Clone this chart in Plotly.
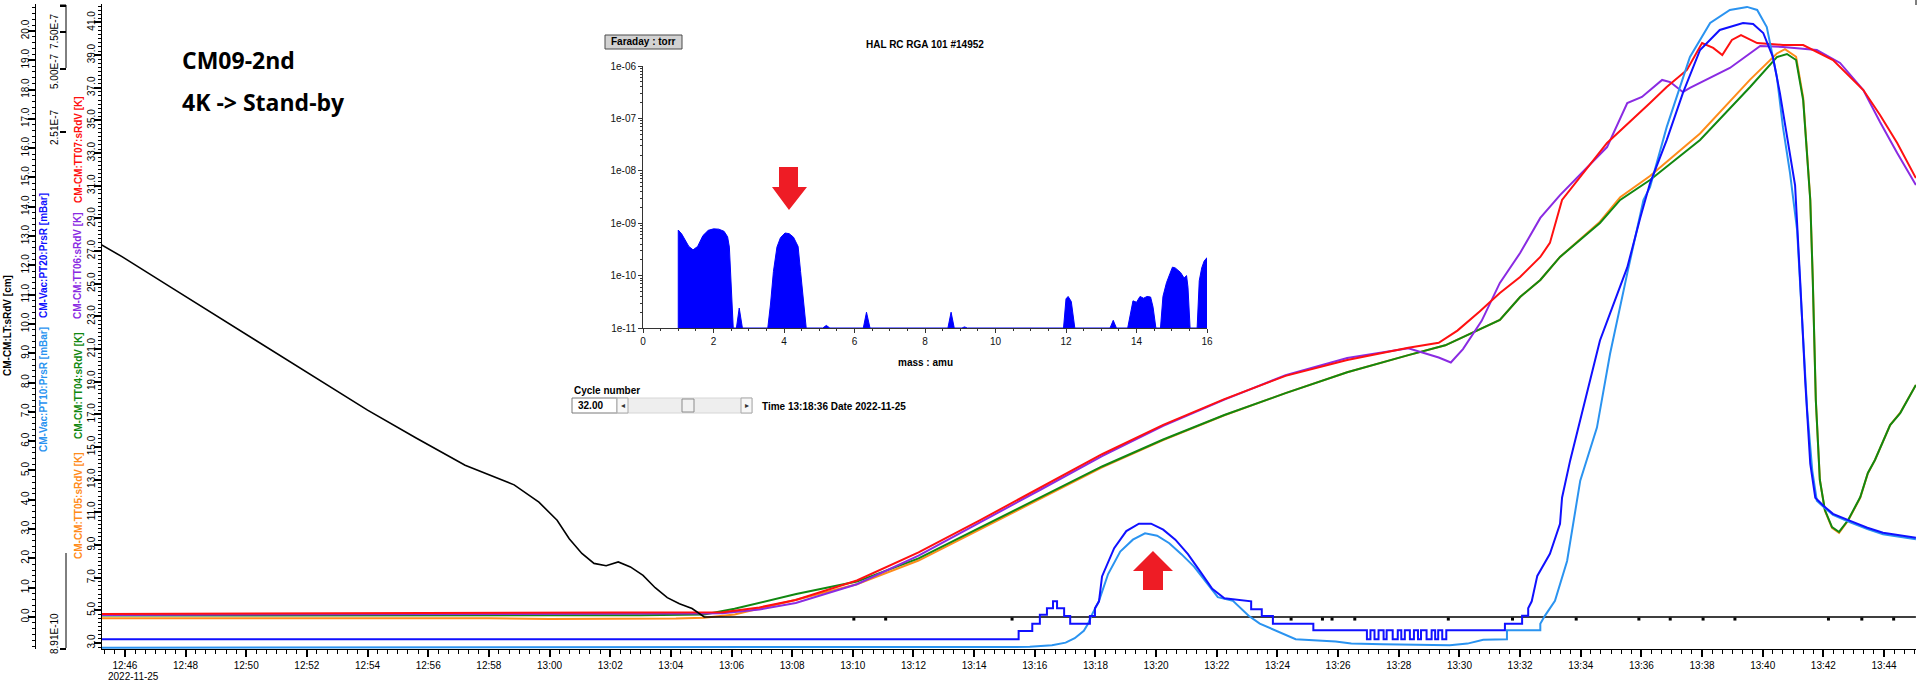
import math
import plotly.graph_objects as go

W, H = 1920, 684
DAY = "2022-11-25 "
FONT = "Liberation Sans, Arial, sans-serif"

# ---------------- data ----------------
# CM-CM:LT:sRdV [cm]
lt_time = ["12:45:14", "12:45:55", "12:47:32", "12:49:09", "12:50:46", "12:52:23", "12:54:00",
           "12:55:37", "12:57:13", "12:58:50", "12:59:39", "13:00:15", "13:00:39", "13:01:04",
           "13:01:28", "13:01:52", "13:02:16", "13:02:40", "13:03:05", "13:03:29", "13:03:53",
           "13:04:17", "13:04:42", "13:05:06", "13:45:03"]
lt_cm = [12.70, 12.29, 11.24, 10.19, 9.15, 8.10, 7.06, 6.10, 5.18, 4.51, 3.92, 3.30, 2.67, 2.17,
         1.83, 1.75, 1.88, 1.71, 1.42, 1.00, 0.66, 0.45, 0.29, 0.0, 0.0]
lt_dot_time = ["13:10:02", "13:11:05", "13:15:15", "13:24:27", "13:25:29", "13:25:48", "13:26:33",
               "13:29:38", "13:31:45", "13:33:51", "13:35:55", "13:36:57", "13:38:02", "13:39:05",
               "13:42:10", "13:43:16", "13:44:19"]
lt_dot_cm = [-0.07] * len(lt_dot_time)

# CM-CM:TT07:sRdV [K]  (red)
tt07_time = ["12:45:14", "12:50:00", "12:55:00", "13:00:00", "13:04:00", "13:05:42", "13:06:55",
             "13:08:07", "13:10:08", "13:12:10", "13:14:11", "13:16:12", "13:18:13", "13:20:14",
             "13:22:15", "13:24:16", "13:26:18", "13:28:19", "13:29:19", "13:29:56", "13:30:40",
             "13:31:20", "13:32:00", "13:32:40", "13:32:59", "13:33:23", "13:34:52", "13:36:17",
             "13:36:50", "13:37:30", "13:38:00", "13:38:22", "13:38:40", "13:38:59", "13:39:17",
             "13:39:49", "13:40:40", "13:41:20", "13:42:19", "13:43:19", "13:43:52", "13:44:26",
             "13:45:03"]
tt07_k = [4.78, 4.80, 4.82, 4.84, 4.86, 4.88, 5.18, 5.63, 6.83, 8.55, 10.51, 12.53, 14.56, 16.36,
          17.93, 19.36, 20.33, 21.08, 21.38, 22.13, 23.3, 24.43, 25.41, 26.64, 27.5, 30.13, 33.62,
          36.07, 37.05, 38.09, 39.74, 39.44, 39.0, 39.93, 40.23, 39.74, 39.62, 39.62, 38.70, 36.86,
          35.33, 33.62, 31.47]

# CM-CM:TT06:sRdV [K]  (purple)
tt06_time = ["12:45:14", "12:54:00", "13:02:00", "13:05:00", "13:05:42", "13:06:55", "13:08:07",
             "13:10:08", "13:12:10", "13:14:11", "13:16:12", "13:18:13", "13:20:14", "13:22:15",
             "13:24:16", "13:26:18", "13:28:19", "13:29:19", "13:29:43", "13:30:07", "13:30:44",
             "13:31:20", "13:32:00", "13:32:40", "13:33:19", "13:34:52", "13:35:32", "13:36:01",
             "13:36:41", "13:36:57", "13:37:22", "13:37:36", "13:38:55", "13:39:55", "13:40:40",
             "13:41:47", "13:42:33", "13:43:19", "13:43:52", "13:44:26", "13:45:03"]
tt06_k = [4.72, 4.74, 4.78, 4.80, 4.82, 5.05, 5.45, 6.6, 8.35, 10.35, 12.4, 14.45, 16.3, 17.9,
          19.4, 20.45, 21.05, 20.48, 20.18, 21.0, 22.73, 25.05, 26.88, 29.03, 30.43, 33.37, 36.07,
          36.44, 37.48, 37.35, 36.74, 36.99, 38.21, 39.56, 39.5, 39.31, 38.52, 36.86, 34.9, 33.0,
          31.05]

# CM-CM:TT04:sRdV [K]  (green)
tt04_time = ["12:45:14", "12:55:00", "13:03:00", "13:05:06", "13:06:06", "13:08:08", "13:10:08",
             "13:12:10", "13:14:11", "13:16:12", "13:18:13", "13:20:14", "13:22:15", "13:24:16",
             "13:26:18", "13:28:19", "13:29:32", "13:31:20", "13:32:00", "13:32:40", "13:33:19",
             "13:34:38", "13:35:18", "13:36:17", "13:37:56", "13:39:35", "13:40:28", "13:40:48",
             "13:41:06", "13:41:20", "13:41:29", "13:41:34", "13:41:39", "13:41:45", "13:41:53",
             "13:42:03", "13:42:17", "13:42:31", "13:42:49", "13:43:13", "13:43:28", "13:43:42",
             "13:44:12", "13:44:32", "13:45:03"]
tt04_k = [4.68, 4.68, 4.70, 4.75, 5.1, 6.0, 6.76, 8.18, 10.05, 11.93, 13.81, 15.46, 16.96, 18.3,
          19.58, 20.63, 21.23, 22.78, 24.19, 25.23, 26.64, 28.72, 30.13, 31.35, 33.8, 37.05, 38.88,
          39.07, 38.70, 36.25, 32.15, 30.13, 25.23, 17.88, 12.98, 11.14, 10.10, 9.80, 10.53, 11.94,
          13.41, 14.21, 16.35, 17.08, 18.8]

# CM-CM:TT05:sRdV [K]  (orange)
tt05_time = ["12:45:14", "12:58:00", "13:00:00", "13:03:30", "13:04:10", "13:05:06", "13:06:06",
             "13:08:08", "13:10:08", "13:12:10", "13:14:11", "13:16:12", "13:18:13", "13:20:14",
             "13:22:15", "13:24:16", "13:26:18", "13:28:19", "13:29:32", "13:31:20", "13:32:00",
             "13:32:40", "13:33:19", "13:34:38", "13:35:18", "13:36:17", "13:37:56", "13:39:35",
             "13:40:28", "13:40:44", "13:41:06", "13:41:20", "13:41:29", "13:41:34", "13:41:39",
             "13:41:45", "13:41:53", "13:42:03", "13:42:17", "13:42:31", "13:42:49", "13:43:13",
             "13:43:28", "13:43:42", "13:44:12", "13:44:32", "13:45:03"]
tt05_k = [4.52, 4.52, 4.47, 4.47, 4.50, 4.55, 4.75, 5.65, 6.6, 8.05, 9.95, 11.85, 13.75, 15.42,
          16.95, 18.3, 19.58, 20.63, 21.23, 22.78, 24.19, 25.23, 26.64, 28.8, 30.3, 31.6, 34.2,
          37.5, 39.1, 39.37, 38.9, 36.4, 32.3, 30.2, 25.3, 17.9, 13.0, 11.1, 10.05, 9.75, 10.5,
          11.9, 13.4, 14.2, 16.35, 17.1, 18.8]

# CM-Vac:PT20:PrsR [mBar]  (dark blue)
pt20_time = ["12:45:14", "13:15:28", "13:15:28", "13:15:55", "13:15:55", "13:16:10", "13:16:10",
             "13:16:24", "13:16:24", "13:16:36", "13:16:36", "13:16:44", "13:16:44", "13:16:58",
             "13:16:58", "13:17:10", "13:17:10", "13:17:49", "13:17:49", "13:17:59", "13:17:59",
             "13:18:07", "13:18:13", "13:18:37", "13:19:01", "13:19:26", "13:19:50", "13:20:14",
             "13:20:38", "13:21:03", "13:21:27", "13:21:51", "13:22:15", "13:23:08", "13:23:08",
             "13:23:29", "13:23:29", "13:23:51", "13:23:51", "13:25:11", "13:25:11",
             "13:26:57", "13:26:57", "13:27:04", "13:27:04", "13:27:12", "13:27:12", "13:27:20",
             "13:27:20", "13:27:30", "13:27:30", "13:27:36", "13:27:36", "13:27:48", "13:27:48",
             "13:27:58", "13:27:58", "13:28:05", "13:28:05", "13:28:12", "13:28:12", "13:28:22",
             "13:28:22", "13:28:30", "13:28:30", "13:28:38", "13:28:38", "13:28:44", "13:28:44",
             "13:28:55", "13:28:55", "13:29:05", "13:29:05", "13:29:12", "13:29:12", "13:29:18",
             "13:29:18", "13:29:26", "13:29:26", "13:29:34", "13:29:34", "13:29:41",
             "13:31:30", "13:31:30", "13:32:04", "13:32:04", "13:32:16", "13:32:16", "13:32:23",
             "13:32:34", "13:32:59", "13:33:19", "13:33:23", "13:33:39", "13:33:55", "13:34:19",
             "13:34:38", "13:34:58", "13:35:32", "13:35:58", "13:36:17", "13:36:50", "13:37:22",
             "13:37:56", "13:38:35", "13:39:21", "13:39:41", "13:40:01", "13:40:20", "13:40:34",
             "13:40:50", "13:41:04", "13:41:14", "13:41:24", "13:41:34", "13:41:44", "13:42:00",
             "13:42:19", "13:42:53", "13:43:27", "13:43:58", "13:45:03"]
pt20_mbar = [9.92e-10, 9.92e-10, 1.086e-9, 1.086e-9, 1.175e-9, 1.175e-9, 1.294e-9,
             1.294e-9, 1.391e-9, 1.391e-9, 1.50e-9, 1.50e-9, 1.391e-9, 1.391e-9,
             1.279e-9, 1.279e-9, 1.175e-9, 1.175e-9, 1.279e-9, 1.279e-9, 1.391e-9,
             1.5e-9, 1.968e-9, 2.68e-9, 3.23e-9, 3.50e-9, 3.50e-9, 3.28e-9,
             2.94e-9, 2.51e-9, 2.08e-9, 1.72e-9, 1.55e-9, 1.50e-9, 1.376e-9,
             1.376e-9, 1.279e-9, 1.279e-9, 1.175e-9, 1.175e-9, 1.094e-9,
             1.094e-9, 9.92e-10, 9.92e-10, 1.094e-9, 1.094e-9, 9.92e-10, 9.92e-10,
             1.094e-9, 1.094e-9, 9.92e-10, 9.92e-10, 1.094e-9, 1.094e-9, 9.92e-10,
             9.92e-10, 1.094e-9, 1.094e-9, 9.92e-10, 9.92e-10, 1.094e-9, 1.094e-9,
             9.92e-10, 9.92e-10, 1.094e-9, 1.094e-9, 9.92e-10, 9.92e-10, 1.094e-9,
             1.094e-9, 9.92e-10, 9.92e-10, 1.094e-9, 1.094e-9, 9.92e-10, 9.92e-10,
             1.094e-9, 1.094e-9, 9.92e-10, 9.92e-10, 1.094e-9, 1.094e-9,
             1.094e-9, 1.175e-9, 1.175e-9, 1.28e-9, 1.28e-9, 1.39e-9, 1.5e-9,
             1.98e-9, 2.52e-9, 3.50e-9, 4.65e-9, 6.97e-9, 1.0e-8, 1.67e-8,
             2.59e-8, 3.48e-8, 5.75e-8, 9.95e-8, 1.44e-7, 2.31e-7, 3.86e-7,
             6.18e-7, 7.69e-7, 8.30e-7, 8.20e-7, 7.44e-7, 5.73e-7, 3.86e-7,
             2.31e-7, 1.41e-7, 4.99e-8, 1.67e-8, 6.74e-9, 4.65e-9, 4.26e-9,
             3.90e-9, 3.61e-9, 3.35e-9, 3.17e-9, 3.0e-9]

# CM-Vac:PT10:PrsR [mBar]  (light blue)
pt10_time = ["12:45:14", "13:15:50", "13:16:34", "13:17:01", "13:17:19", "13:17:37", "13:17:45",
             "13:17:54", "13:18:07", "13:18:25", "13:18:49", "13:19:14", "13:19:38", "13:20:02",
             "13:20:26", "13:20:50", "13:21:15", "13:21:39", "13:22:02", "13:22:32", "13:23:03",
             "13:23:25", "13:24:36", "13:25:55", "13:26:26", "13:27:28", "13:29:41", "13:30:16",
             "13:30:47", "13:31:34", "13:31:34", "13:32:40", "13:32:40", "13:32:49", "13:33:09",
             "13:33:33", "13:33:59", "13:34:32", "13:34:58", "13:35:32", "13:36:04", "13:36:17",
             "13:36:50", "13:37:36", "13:38:16", "13:38:55", "13:39:29", "13:39:49", "13:40:08",
             "13:40:28", "13:40:40", "13:40:54", "13:41:08", "13:41:18", "13:41:28", "13:41:38",
             "13:41:47", "13:42:00", "13:42:19", "13:42:53", "13:43:27", "13:43:58", "13:45:03"]
pt10_mbar = [9.04e-10, 9.12e-10, 9.29e-10, 9.55e-10, 1.002e-9, 1.086e-9, 1.17e-9,
             1.31e-9, 1.507e-9, 2.02e-9, 2.58e-9, 2.94e-9, 3.15e-9, 3.07e-9,
             2.83e-9, 2.51e-9, 2.19e-9, 1.84e-9, 1.57e-9, 1.507e-9, 1.28e-9,
             1.175e-9, 9.92e-10, 9.66e-10, 9.45e-10, 9.38e-10, 9.29e-10, 9.45e-10,
             9.85e-10, 9.92e-10, 1.094e-9, 1.094e-9, 1.175e-9, 1.28e-9, 1.507e-9,
             2.33e-9, 5.6e-9, 1.0e-8, 2.24e-8, 5.39e-8, 1.2e-7, 1.38e-7,
             2.66e-7, 5.73e-7, 8.30e-7, 9.57e-7, 9.89e-7, 9.57e-7, 7.94e-7,
             4.60e-7, 2.66e-7, 1.61e-7, 8.63e-8, 3.22e-8, 1.2e-8, 6.25e-9,
             4.5e-9, 4.21e-9, 3.85e-9, 3.55e-9, 3.30e-9, 3.12e-9, 2.95e-9]

# RGA spectrum (inset)
rga_mass = [1.0, 1.0, 1.1, 1.2, 1.3, 1.42, 1.55, 1.7, 1.85, 2.0, 2.15, 2.3, 2.4, 2.45, 2.5, 2.56,
            2.65, 2.73, 2.82,
            3.54, 3.62, 3.7, 3.8, 3.9, 4.03, 4.15, 4.27, 4.4, 4.47, 4.55, 4.63,
            5.1, 5.2, 5.3, 6.25, 6.34, 6.44, 8.65, 8.74, 8.83, 9.05, 9.12, 9.2,
            11.93, 12.0, 12.06, 12.15, 12.25, 13.25, 13.34, 13.43,
            13.75, 13.82, 13.9, 14.0, 14.1, 14.2, 14.3, 14.4, 14.47, 14.55,
            14.68, 14.75, 14.85, 14.95, 15.02, 15.1, 15.25, 15.35, 15.42, 15.46, 15.52,
            15.72, 15.78, 15.85, 15.92, 16.0, 16.0]
rga_torr = [1e-11, 7.4e-10, 6.2e-10, 4.8e-10, 3.6e-10, 3.1e-10, 3.6e-10, 5.8e-10, 7.3e-10, 7.8e-10,
            7.7e-10, 7.0e-10, 5.5e-10, 3.5e-10, 5e-11, 1e-11,
            1e-11, 2.4e-11, 1e-11,
            1e-11, 3e-11, 1.2e-10, 3.5e-10, 5.3e-10, 6.5e-10, 6.3e-10, 5.4e-10, 3.6e-10, 1.2e-10,
            3e-11, 1e-11,
            1e-11, 1.12e-11, 1e-11, 1e-11, 2.0e-11, 1e-11, 1e-11, 2.0e-11, 1e-11, 1e-11, 1.05e-11, 1e-11,
            1e-11, 3.6e-11, 4.0e-11, 3.2e-11, 1e-11, 1e-11, 1.4e-11, 1e-11,
            1e-11, 1.7e-11, 3.3e-11, 3.1e-11, 4.0e-11, 3.7e-11, 4.0e-11, 3.9e-11, 2.5e-11, 1e-11,
            1e-11, 4e-11, 7.3e-11, 1.1e-10, 1.45e-10, 1.4e-10, 1.15e-10, 9e-11, 1.0e-10, 6e-11, 1e-11,
            1e-11, 8e-11, 1.4e-10, 1.9e-10, 2.2e-10, 1e-11]

temp_ticks = [3.0 + 2 * i for i in range(20)]
lt_ticks = list(range(0, 21))
pres_ticks = [8.91e-10, 2.51e-7, 5.00e-7, 7.50e-7, 1e-6]
pres_tick_text = ["8.91E-10", "2.51E-7", "5.00E-7", "7.50E-7"]
rga_y_ticks = [1e-11, 1e-10, 1e-9, 1e-8, 1e-7, 1e-6]
rga_y_text = ["1e-11", "1e-10", "1e-09", "1e-08", "1e-07", "1e-06"]

# ---------------- helpers ----------------
def ts(lst):
    return [DAY + t for t in lst]


def px(x):
    return x / W


def py(y):
    return 1 - y / H


C_RED, C_PUR, C_GRN, C_ORG = "#ff1010", "#8a2be2", "#118811", "#ff8c1a"
C_DB, C_LB, C_BLK = "#1010ff", "#2a93f0", "#000000"

fig = go.Figure()
fig.add_trace(go.Scatter(x=ts(tt05_time), y=tt05_k, mode="lines", line=dict(color=C_ORG, width=2)))
fig.add_trace(go.Scatter(x=ts(tt04_time), y=tt04_k, mode="lines", line=dict(color=C_GRN, width=2)))
fig.add_trace(go.Scatter(x=ts(tt06_time), y=tt06_k, mode="lines", line=dict(color=C_PUR, width=2)))
fig.add_trace(go.Scatter(x=ts(tt07_time), y=tt07_k, mode="lines", line=dict(color=C_RED, width=2)))
fig.add_trace(go.Scatter(x=ts(pt10_time), y=pt10_mbar, yaxis="y3", mode="lines",
                         line=dict(color=C_LB, width=2)))
fig.add_trace(go.Scatter(x=ts(pt20_time), y=pt20_mbar, yaxis="y3", mode="lines",
                         line=dict(color=C_DB, width=2)))
fig.add_trace(go.Scatter(x=ts(lt_time), y=lt_cm, yaxis="y2", mode="lines",
                         line=dict(color=C_BLK, width=1.6)))
fig.add_trace(go.Scatter(x=ts(lt_dot_time), y=lt_dot_cm, yaxis="y2", mode="markers",
                         marker=dict(color=C_BLK, size=3, symbol="square")))
fig.add_trace(go.Scatter(x=rga_mass, y=rga_torr, xaxis="x2", yaxis="y4", mode="lines",
                         fill="toself", fillcolor="#0000ff", line=dict(color="#0000ff", width=1)))

tickfont = dict(family=FONT, size=10, color="#000")
common_y = dict(showgrid=False, zeroline=False, showline=True, linecolor="#000", linewidth=1,
                ticks="outside", tickcolor="#000", tickangle=-90, tickfont=tickfont,
                automargin=False)

fig.update_layout(
    width=W, height=H, margin=dict(l=0, r=0, t=0, b=0, autoexpand=False),
    paper_bgcolor="white", plot_bgcolor="rgba(0,0,0,0)", showlegend=False,
    xaxis=dict(domain=[px(102), px(1916)], anchor="y", type="date", automargin=False,
               range=[DAY + "12:45:14.7", DAY + "13:45:03.2"],
               showgrid=False, zeroline=False, showline=True, linecolor="#000", linewidth=1,
               ticks="outside", ticklen=7, tickwidth=2, tickcolor="#000",
               tick0=DAY + "12:46:00", dtick=120000, tickformat="%H:%M", tickfont=tickfont,
               minor=dict(dtick=20000, ticks="outside", ticklen=4, tickwidth=1, tickcolor="#000")),
    yaxis=dict(domain=[py(649), py(4)], anchor="x", range=[2.633, 42.13],
               tickvals=temp_ticks, tickformat=".1f", ticklen=7, tickwidth=2, ticklabelstandoff=-5,
               minor=dict(dtick=0.25, tick0=3, ticks="outside", ticklen=3, tickwidth=1, tickcolor="#000"),
               **common_y),
    yaxis2=dict(overlaying="y", anchor="free", position=px(35), side="left",
                range=[-1.092, 20.92], tickvals=lt_ticks, tickformat=".1f", ticklen=7, tickwidth=2,
                ticklabelstandoff=-5,
                minor=dict(dtick=0.2, tick0=0, ticks="outside", ticklen=3, tickwidth=1, tickcolor="#000"),
                **common_y),
    yaxis3=dict(overlaying="y", anchor="free", position=px(66), side="left", type="log",
                range=[math.log10(8.91e-10), -5.991], tickvals=pres_ticks, showticklabels=False,
                ticks="outside", ticklen=6, tickwidth=2, tickcolor="#000", automargin=False,
                showline=False, showgrid=False, zeroline=False),
    xaxis2=dict(domain=[px(643), px(1207)], anchor="y4", range=[0, 16], dtick=2, tick0=0,
                automargin=False,
                showgrid=False, zeroline=False, showline=True, linecolor="#333", linewidth=1,
                ticks="outside", ticklen=4, tickcolor="#333", tickfont=dict(family=FONT, size=10, color="#111"),
                minor=dict(dtick=0.5, ticks="outside", ticklen=2, tickcolor="#333")),
    yaxis4=dict(domain=[py(328), py(66)], anchor="x2", type="log", range=[-11, -6],
                tickvals=rga_y_ticks, ticktext=rga_y_text, automargin=False,
                showgrid=False, zeroline=False, showline=True, linecolor="#333", linewidth=1,
                ticks="outside", ticklen=4, tickcolor="#333", tickfont=dict(family=FONT, size=10, color="#111"),
                minor=dict(dtick="D1", ticks="outside", ticklen=2, tickcolor="#333")),
)

ann = []


def text(x, y, s, size=10, color="#000", bold=False, angle=0, xanchor="center", family=FONT):
    ann.append(dict(x=px(x), y=py(y), xref="paper", yref="paper", text=("<b>%s</b>" % s) if bold else s,
                    showarrow=False, textangle=angle, xanchor=xanchor, yanchor="middle",
                    font=dict(family=family, size=size, color=color)))


# axis titles (rotated)
text(7, 326, "CM-CM:LT:sRdV [cm]", bold=True, angle=-90)
text(43, 256, "CM-Vac:PT20:PrsR [mBar]", color="#1010ff", bold=True, angle=-90)
text(43, 390, "CM-Vac:PT10:PrsR [mBar]", color="#2a93f0", bold=True, angle=-90)
text(78, 150, "CM-CM:TT07:sRdV [K]", color="#ff1010", bold=True, angle=-90)
text(78, 266, "CM-CM:TT06:sRdV [K]", color="#8a2be2", bold=True, angle=-90)
text(78, 386, "CM-CM:TT04:sRdV [K]", color="#118811", bold=True, angle=-90)
text(78, 506, "CM-CM:TT05:sRdV [K]", color="#ff8c1a", bold=True, angle=-90)
# pressure axis labels
for lab, yy in zip(pres_tick_text, [634, 128, 72, 32]):
    text(54, yy, lab, size=10, angle=-90)
# date under first time tick
text(133, 676, "2022-11-25", size=10)
# big label
text(180, 60, "CM09-2nd", size=23, bold=True, xanchor="left", family="Open Sans, sans-serif")
text(180, 102, "4K -&gt; Stand-by", size=23, bold=True, xanchor="left", family="Open Sans, sans-serif")
# inset texts
text(643.5, 42, "Faraday : torr", size=10, bold=True)
text(925, 45, "HAL RC RGA 101 #14952", size=10, bold=True)
text(925, 362, "mass : amu", size=10, bold=True)
# cycle widget
text(572, 390, "Cycle number", size=10, bold=True, xanchor="left")
text(576, 405.5, "32.00", size=10, bold=True, xanchor="left")
text(622.5, 405.5, "◂", size=8, color="#333")
text(746.5, 405.5, "▸", size=8, color="#333")
text(760, 406, "Time 13:18:36 Date 2022-11-25", size=10, bold=True, xanchor="left")

shapes = []


def rect(x0, y0, x1, y1, fill, line, lw=1):
    shapes.append(dict(type="rect", xref="paper", yref="paper", x0=px(x0), x1=px(x1), y0=py(y1), y1=py(y0),
                       fillcolor=fill, line=dict(color=line, width=lw), layer="above"))


def seg(x0, y0, x1, y1, color="#000", lw=1):
    shapes.append(dict(type="line", xref="paper", yref="paper", x0=px(x0), x1=px(x1), y0=py(y0), y1=py(y1),
                       line=dict(color=color, width=lw)))


def poly(pts, color):
    path = "M " + " L ".join("%.5f,%.5f" % (px(a), py(b)) for a, b in pts) + " Z"
    shapes.append(dict(type="path", xref="paper", yref="paper", path=path, fillcolor=color,
                       line=dict(color=color, width=0), layer="above"))


# pressure axis line segments
seg(66, 5, 66, 68)
seg(66, 553, 66, 648)
seg(60, 5, 66, 5)
# small mark at top right
seg(1916, 0, 1916, 5)
# widgets
rect(605, 35, 682, 49, "#d2d2d2", "#4a4a4a")
rect(572, 398, 617, 413, "#ffffff", "#7a7a7a")
rect(617, 398, 752, 413, "#eeeeee", "#d6d6d6")
rect(617, 398, 628, 413, "#f7f7f7", "#a8a8a8")
rect(741, 398, 752, 413, "#f7f7f7", "#a8a8a8")
rect(682, 399, 694, 412, "#f2f2f2", "#8c8c8c")
# red arrows
poly([(779, 167), (798, 167), (798, 187), (807, 187), (789, 210), (772, 187), (779, 187)], "#ee1c25")
poly([(1153, 551), (1173, 571), (1163, 571), (1163, 590), (1143, 590), (1143, 571), (1133, 571)], "#ee1c25")

fig.update_layout(annotations=ann, shapes=shapes)

fig.write_html("out.html", config={"displayModeBar": False},
               post_script="document.body.style.margin='0px';document.body.style.overflow='hidden';")
